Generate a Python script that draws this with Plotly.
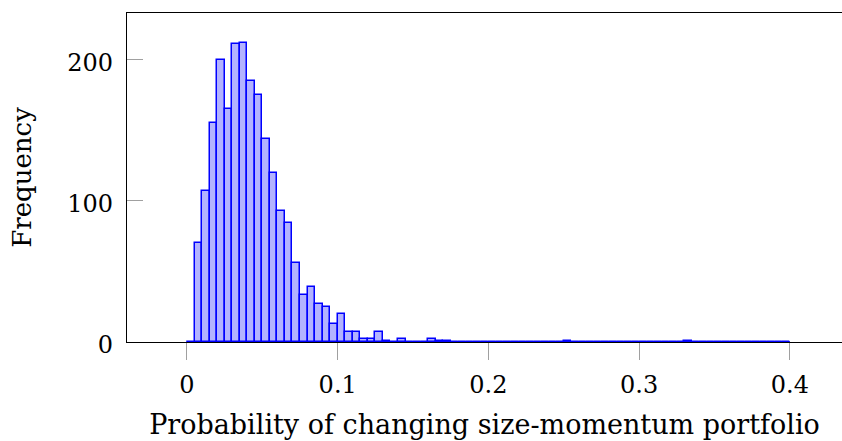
import plotly.graph_objects as go

# Histogram data: bins of width 0.005 from 0 to 0.4
bin_width = 0.005
bin_start = 0.0
counts = [
    0, 70, 107, 155, 200, 165, 211, 212, 185, 175,
    144, 120, 93, 84, 56, 33, 39, 27, 25, 13,
    20, 7, 7, 2, 2, 7, 1, 0, 2, 0,
    0, 0, 2, 1, 1, 0, 0, 0, 0, 0,
    0, 0, 0, 0, 0, 0, 0, 0, 0, 0,
    1, 0, 0, 0, 0, 0, 0, 0, 0, 0,
    0, 0, 0, 0, 0, 0, 1, 0, 0, 0,
    0, 0, 0, 0, 0, 0, 0, 0, 0, 0,
]
x_ticks = [0, 0.1, 0.2, 0.3, 0.4]
x_tick_labels = ["0", "0.1", "0.2", "0.3", "0.4"]
y_ticks = [0, 100, 200]
y_tick_labels = ["0", "100", "200"]
x_title = "Probability of changing size-momentum portfolio"
y_title = "Frequency"

centers = [bin_start + bin_width * (i + 0.5) for i in range(len(counts))]
edges_span = [bin_start, bin_start + bin_width * len(counts)]

FONT = "DejaVu Serif"

fig = go.Figure()
fig.add_trace(go.Bar(
    x=centers, y=counts, width=bin_width,
    marker=dict(color="rgb(179,179,255)", line=dict(color="rgb(0,0,255)", width=1.5)),
    showlegend=False, hoverinfo="x+y",
))
fig.add_trace(go.Scatter(
    x=edges_span, y=[0, 0], mode="lines",
    line=dict(color="rgb(0,0,255)", width=1.8),
    showlegend=False, hoverinfo="skip",
))

fig.update_layout(
    width=842, height=441,
    margin=dict(l=127, r=0, t=13, b=99),
    paper_bgcolor="white", plot_bgcolor="white",
    bargap=0,
    font=dict(family=FONT, size=24, color="black"),
    xaxis=dict(
        range=[-0.0398, 0.4346], automargin=False,
        tickvals=x_ticks, ticktext=x_tick_labels,
        ticks="outside", ticklen=17, tickwidth=1.3, tickcolor="#a0a0a0",
        showline=True, linecolor="black", linewidth=1.3, mirror=True,
        showgrid=False, zeroline=False, layer="below traces",
        tickfont=dict(size=24), ticklabelstandoff=4,
        title=dict(text=x_title, standoff=17, font=dict(size=27)),
    ),
    yaxis=dict(
        range=[0, 233.2], automargin=False,
        tickvals=y_ticks, ticktext=y_tick_labels,
        ticks="inside", ticklen=16, tickwidth=1.3, tickcolor="#a0a0a0",
        showline=True, linecolor="black", linewidth=1.3, mirror=False,
        showgrid=False, zeroline=False, layer="below traces",
        ticklabelstandoff=8, ticklabelshift=3, tickfont=dict(size=24),
        title=dict(text=y_title, standoff=28, font=dict(size=26)),
    ),
)

# Remove the browser's default 8px body margin so the figure fills the window.
fig.write_html(
    "out.html",
    config={"displayModeBar": False},
    post_script="document.body.style.margin='0';document.body.style.overflow='hidden';",
)
